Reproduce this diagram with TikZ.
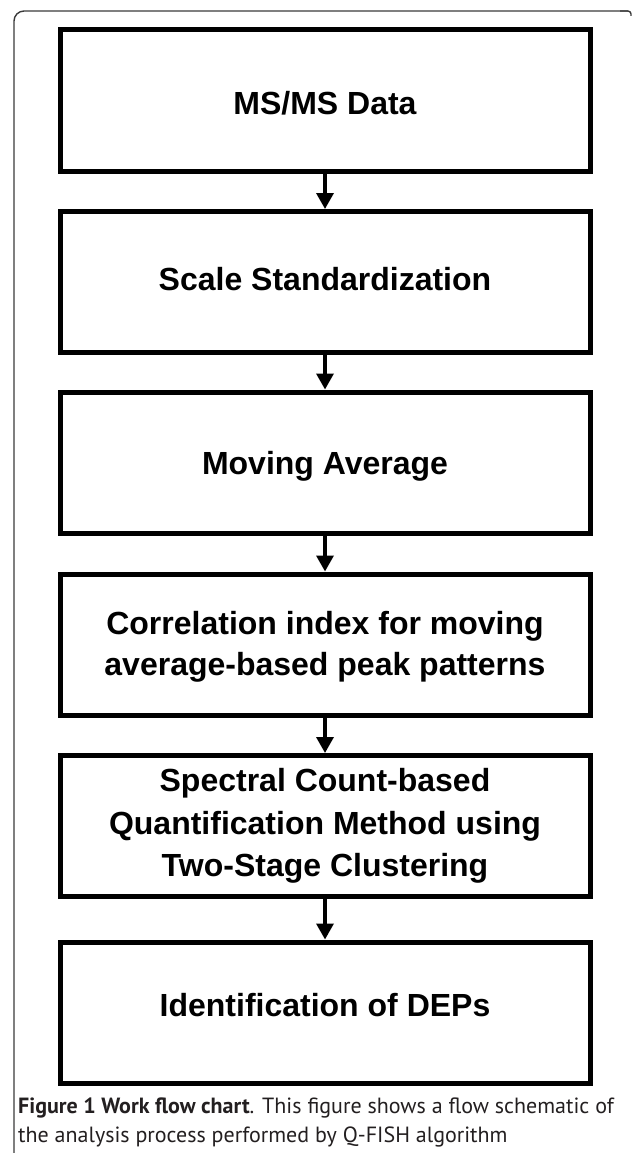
\documentclass[tikz,border=0pt]{standalone}
\usepackage{fontspec}
\setmainfont{Liberation Sans}
\newfontfamily\capfont{PT Sans}
\usetikzlibrary{arrows.meta}
\definecolor{framegray}{HTML}{3A3A3A}
\definecolor{captext}{HTML}{231F20}
\tikzset{
  stepbox/.style={draw=black, line width=5pt, minimum width=530pt, minimum height=141pt,
    inner sep=0pt, align=center, font=\fontsize{32}{41}\selectfont\bfseries},
  steptext/.style={inner sep=0pt, align=center, font=\fontsize{32}{41}\selectfont\bfseries},
  flowarrow/.style={line width=3.4pt, -{Triangle[width=17pt,length=16pt]}},
}
\begin{document}
\begin{tikzpicture}[x=1pt,y=-1pt]
\useasboundingbox (0,0) rectangle (633,1153);
% outer frame
\draw[framegray, line width=1.4pt, rounded corners=10pt] (14,1170) -- (14,11) -- (628,11);
\draw[framegray, line width=1.4pt, rounded corners=3pt] (620,11) -- (631,11) -- (631,16);
% boxes
\node[stepbox] (b1) at (325,100.5) {};
\node[stepbox] (b2) at (325,282) {};
\node[stepbox] (b3) at (325,462.5) {};
\node[stepbox] (b4) at (325,644.5) {};
\node[stepbox] (b5) at (325,826) {};
\node[stepbox] (b6) at (325,1012.5) {};
% box texts
\node[steptext] (t1) at ([yshift=-3pt]b1.center) {MS/MS Data};
\node[steptext] (t2) at ([yshift=3pt]b2.center) {Scale Standardization};
\node[steptext] (t3) at ([yshift=-4pt]b3.center) {Moving Average};
\node[steptext] (t4) at ([yshift=-2pt]b4.center) {Correlation index for moving\\average-based peak patterns};
\node[steptext, font=\fontsize{32}{42.5}\selectfont\bfseries] (t5) at (b5.center) {Spectral Count-based\\Quantification Method using\\Two-Stage Clustering};
\node[steptext] (t6) at ([yshift=7pt]b6.center) {Identification of DEPs};
% arrows
\draw[flowarrow] (b1.south) -- (b2.north);
\draw[flowarrow] (b2.south) -- (b3.north);
\draw[flowarrow] (b3.south) -- (b4.north);
\draw[flowarrow] (b4.south) -- (b5.north);
\draw[flowarrow] (b5.south) -- (b6.north);
% caption
\node[anchor=north west, inner sep=0pt, align=left, text=captext,
  font=\capfont\fontsize{22}{29}\selectfont] (cap) at (18,1098)
  {{\bfseries Figure 1 Work flow chart}. This figure shows a flow schematic of\\
   the analysis process performed by Q-FISH algorithm};
\end{tikzpicture}
\end{document}
